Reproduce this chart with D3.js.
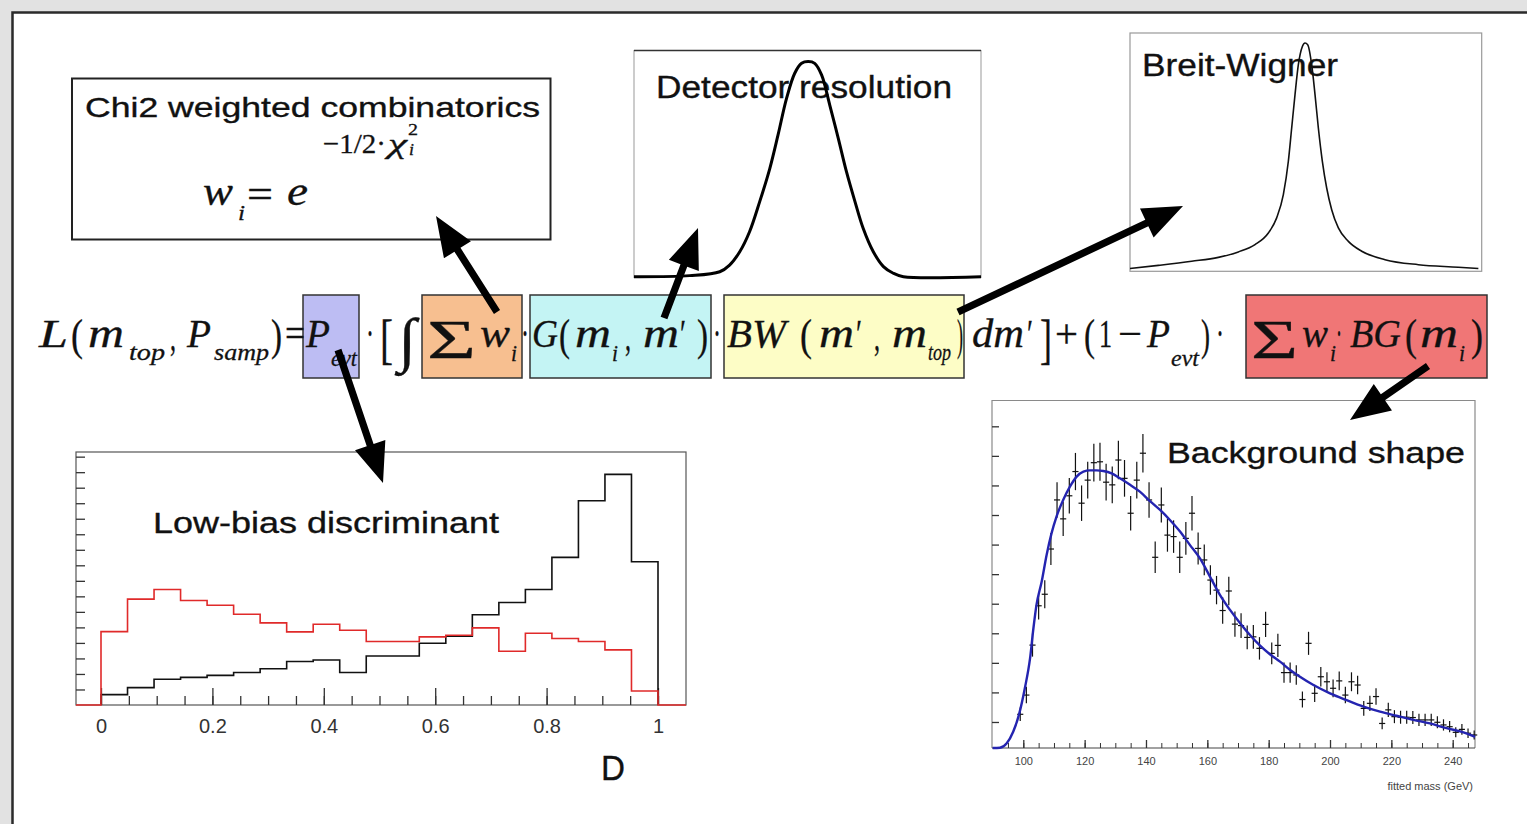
<!DOCTYPE html>
<html>
<head>
<meta charset="utf-8">
<script src="https://cdn.jsdelivr.net/npm/d3@7/dist/d3.min.js"></script>
<style>
  html, body { margin: 0; padding: 0; background: #fff; }
  svg { display: block; }
</style>
</head>
<body>
<svg id="slide" width="1527" height="824"></svg>
<script>
// ---------------- data ----------------
// Low-bias discriminant D: 21 equal bins on [0,1]
const discBinCount = 21;
const discSignal = [0.67, 1.12, 1.66, 1.78, 1.91, 2.09, 2.34, 2.80, 2.90, 2.09, 3.16,
                    3.16, 3.98, 4.43, 5.81, 6.60, 7.44, 9.51, 13.16, 14.86, 9.23];
const discBackground = [4.73, 6.82, 7.44, 6.73, 6.43, 5.85, 5.29, 4.71, 5.20, 4.82, 4.09,
                        4.09, 4.39, 4.49, 4.97, 3.46, 4.62, 4.28, 4.09, 3.55, 0.90];
const discTickValues = [0, 0.2, 0.4, 0.6, 0.8, 1];
const discTickLabels = ["0", "0.2", "0.4", "0.6", "0.8", "1"];

// Background shape: fitted mass, 2 GeV bins
const massBins = d3.range(99, 248, 2);
const bgCounts = [12.6, 19.1, 36.0, 49.3, 53.2, 68.5, 85.1, 78.7, 86.5, 94.7,
                  84.0, 91.8, 97.7, 98.0, 91.1, 90.2, 98.6, 92.4, 80.6, 91.8,
                  100.9, 85.1, 65.7, 83.4, 73.2, 72.7, 65.7, 72.1, 80.6, 68.7,
                  64.8, 58.0, 54.6, 47.7, 54.3, 43.1, 42.6, 38.6, 38.8, 34.9,
                  43.0, 33.2, 35.9, 26.7, 26.7, 25.9, 17.6, 36.6, 19.7, 25.3,
                  23.6, 21.4, 23.9, 19.1, 23.6, 22.5, 14.6, 16.3, 18.6, 9.5,
                  14.1, 11.8, 11.6, 11.6, 11.5, 10.7, 10.7, 10.7, 9.9, 9.0,
                  8.4, 6.5, 7.5, 6.2, 5.6];
const bgErrors = [2.3, 2.8, 3.9, 4.6, 4.7, 5.4, 6.0, 5.8, 6.0, 6.3,
                  6.0, 6.2, 6.4, 6.4, 6.2, 6.2, 6.5, 6.2, 5.8, 6.2,
                  6.5, 6.0, 5.3, 5.9, 5.6, 5.5, 5.3, 5.5, 5.8, 5.4,
                  5.2, 5.0, 4.8, 4.5, 4.8, 4.3, 4.2, 4.0, 4.0, 3.8,
                  4.3, 3.7, 3.9, 3.4, 3.4, 3.3, 2.7, 3.9, 2.9, 3.3,
                  3.2, 3.0, 3.2, 2.8, 3.2, 3.1, 2.5, 2.6, 2.8, 2.0,
                  2.4, 2.2, 2.2, 2.2, 2.2, 2.1, 2.1, 2.1, 2.0, 1.9,
                  1.9, 1.7, 1.8, 1.6, 1.5];
const fitMass = [90, 92.4, 94.6, 96.7, 98.7, 100.5, 102.2, 103.3, 104.3, 106.0, 107.6,
                 109.2, 110.8, 113.0, 115.2, 117.4, 119.6, 121.7, 123.9, 126.1, 128.8,
                 131.5, 134.8, 138.0, 141.3, 144.6, 147.8, 151.1, 154.3, 157.6, 160.9,
                 164.1, 167.4, 170.7, 173.9, 177.2, 180.4, 183.7, 187.0, 190.2, 194.6,
                 200.0, 205.4, 210.9, 216.3, 221.7, 227.2, 232.6, 238.0, 243.5, 247.3];
const fitValue = [1.2, 1.3, 2.8, 6.7, 12.9, 21.4, 31.5, 41.7, 49.6, 57.5, 66.5,
                  73.8, 79.4, 85.1, 89.6, 93.0, 94.7, 95.1, 95.1, 94.9, 94.1,
                  92.4, 90.2, 87.9, 84.7, 81.7, 78.3, 74.4, 69.9, 65.3, 59.1,
                  53.0, 47.9, 43.4, 39.4, 35.8, 32.9, 30.4, 27.6, 25.3, 22.5,
                  19.7, 17.4, 15.2, 13.5, 12.1, 10.7, 9.5, 7.9, 6.5, 5.0];
const massTickValues = [100, 120, 140, 160, 180, 200, 220, 240];

// Detector resolution (offset in units of sigma, relative height)
const resX = [-5.3, -3.6, -2.68, -2.38, -2.07, -1.77, -1.46, -1.15, -0.90, -0.64, -0.39, -0.18,
              0.02, 0.22, 0.43, 0.68, 0.94, 1.19, 1.45, 1.70, 2.01, 2.32, 2.62, 2.93, 5.3];
const resY = [0, 0.005, 0.023, 0.054, 0.116, 0.209, 0.349, 0.504, 0.659, 0.829, 0.946, 0.992,
              1.0, 0.992, 0.938, 0.798, 0.643, 0.488, 0.349, 0.225, 0.116, 0.047, 0.016, 0.0, 0];

// Breit-Wigner (offset in units of half width, relative height)
const bwX = [-10.5, -8.8, -6.8, -5.2, -4.0, -3.0, -2.2, -1.7, -1.3, -1.0, -0.8, -0.6, -0.4, -0.16,
             0, 0.16, 0.4, 0.6, 0.8, 1.04, 1.3, 1.6, 2.0, 2.6, 3.4, 4.8, 6.8, 9.2, 10.4];
const bwY = [0.012, 0.026, 0.044, 0.061, 0.085, 0.117, 0.168, 0.234, 0.336, 0.482, 0.628, 0.774,
             0.905, 0.985, 1.0, 0.993, 0.905, 0.774, 0.628, 0.482, 0.365, 0.270, 0.190, 0.131,
             0.088, 0.051, 0.029, 0.018, 0.012];

// ---------------- drawing ----------------
const svg = d3.select("#slide");
const SANS = "'Liberation Sans', Arial, Helvetica, sans-serif";
const SERIF = "'Liberation Serif', 'Times New Roman', serif";

// slide backdrop and border
svg.append("rect").attr("width", 1527).attr("height", 824).attr("fill", "#e2e2e2");
svg.append("rect").attr("x", 12).attr("y", 12).attr("width", 1515).attr("height", 812).attr("fill", "#fff");
svg.append("path").attr("d", "M12.5,824V12.5H1527")
  .attr("fill", "none").attr("stroke", "#2a2a2a").attr("stroke-width", 2.5);

function label(s, x, baseline, size, width, opts = {}) {
  const t = svg.append("text")
    .attr("x", x).attr("y", baseline)
    .attr("font-family", opts.family || SANS)
    .attr("font-size", size)
    .attr("fill", opts.fill || "#111")
    .attr("stroke", opts.fill || "#111")
    .attr("stroke-width", opts.weight == null ? 0.35 : opts.weight)
    .text(s);
  if (width) t.attr("textLength", width).attr("lengthAdjust", "spacingAndGlyphs");
  return t;
}

// a run of math glyphs set as one text element, each glyph its own tspan
function mathRun(glyphs) {
  const t = svg.append("text").attr("font-family", SERIF).attr("fill", "#111")
    .attr("stroke", "#111").attr("stroke-width", 0.3);
  glyphs.forEach(g => {
    t.append("tspan")
      .attr("x", g[1]).attr("y", g[3])
      .attr("font-size", g[4])
      .attr("font-style", g[5] ? "italic" : "normal")
      .attr("textLength", g[2]).attr("lengthAdjust", "spacingAndGlyphs")
      .text(g[0]);
  });
  return t;
}

function arrow(x1, y1, x2, y2) {
  const dx = x2 - x1, dy = y2 - y1, L = Math.hypot(dx, dy);
  const ux = dx / L, uy = dy / L, px = -uy, py = ux;
  const hl = 40, hw = 16, sw = 3.6;
  const bx = x2 - ux * hl, by = y2 - uy * hl;
  const pts = [
    [x1 + px * sw, y1 + py * sw], [bx + px * sw, by + py * sw], [bx + px * hw, by + py * hw],
    [x2, y2], [bx - px * hw, by - py * hw], [bx - px * sw, by - py * sw], [x1 - px * sw, y1 - py * sw]
  ];
  svg.append("polygon").attr("points", pts.map(p => p.join(",")).join(" ")).attr("fill", "#000");
}

// ---- Chi2 box ----
svg.append("rect").attr("x", 72).attr("y", 78.5).attr("width", 478.5).attr("height", 161)
  .attr("fill", "#fff").attr("stroke", "#222").attr("stroke-width", 2);
label("Chi2 weighted combinatorics", 85, 117, 28, 455);
mathRun([
  ["w", 203, 30, 205, 40, true],
  ["i", 238, 7, 220, 22, true],
  ["=", 247, 26, 208, 40, false],
  ["e", 287, 21, 205, 40, true],
  ["\u22121/2\u00B7", 323, 63, 153, 28, false],
  ["\u03C7", 388, 19, 153, 28, true],
  ["2", 408, 10, 135, 17, false],
  ["i", 409, 5, 155, 17, true]
]);

// ---- Detector resolution ----
const xG = d3.scaleLinear().domain([-5.3, 5.3]).range([634, 981]);
const yG = d3.scaleLinear().domain([0, 1.054]).range([276.7, 50]);
svg.append("line").attr("x1", 634).attr("x2", 634).attr("y1", 50).attr("y2", 278).attr("stroke", "#999");
svg.append("line").attr("x1", 981).attr("x2", 981).attr("y1", 50).attr("y2", 278).attr("stroke", "#999");
svg.append("line").attr("x1", 634).attr("x2", 981).attr("y1", 50.5).attr("y2", 50.5).attr("stroke", "#333").attr("stroke-width", 1.5);
label("Detector resolution", 656, 98, 31, 296);
svg.append("path")
  .attr("d", d3.line().x((d, i) => xG(resX[i])).y(d => yG(d)).curve(d3.curveCatmullRom.alpha(0.5))(resY))
  .attr("fill", "none").attr("stroke", "#000").attr("stroke-width", 3);

// ---- Breit-Wigner ----
const xW = d3.scaleLinear().domain([-10.5, 10.6]).range([1130, 1481.7]);
const yW = d3.scaleLinear().domain([0, 1.044]).range([271.3, 33]);
svg.append("rect").attr("x", 1130).attr("y", 33).attr("width", 351.7).attr("height", 238.3)
  .attr("fill", "#fff").attr("stroke", "#999").attr("stroke-width", 1.2);
label("Breit-Wigner", 1142, 76, 31, 196);
svg.append("path")
  .attr("d", d3.line().x((d, i) => xW(bwX[i])).y(d => yW(d)).curve(d3.curveMonotoneX)(bwY))
  .attr("fill", "none").attr("stroke", "#111").attr("stroke-width", 1.6);

// ---- Likelihood formula ----
const boxes = [
  { x0: 303, x1: 359, fill: "#bdbdf3" },
  { x0: 422, x1: 522, fill: "#f7bf90" },
  { x0: 530, x1: 711, fill: "#c4f4f4" },
  { x0: 724, x1: 964, fill: "#fdfdc6" },
  { x0: 1246, x1: 1487, fill: "#f07676" }
];
boxes.forEach(b => svg.append("rect")
  .attr("x", b.x0).attr("y", 295).attr("width", b.x1 - b.x0).attr("height", 83)
  .attr("fill", b.fill).attr("stroke", "#333").attr("stroke-width", 1.5));

mathRun([
  ["L", 39, 29, 347, 40, true], ["(", 71, 12, 350, 44, false], ["m", 88, 36, 347, 40, true],
  ["top", 129, 36, 360, 24, true], [",", 170, 6, 350, 40, false], ["P", 187, 24, 347, 40, true],
  ["samp", 214, 55, 360, 24, true], [")", 271, 11, 350, 44, false], ["=", 285, 20, 347, 40, false],
  ["P", 306, 24, 347, 40, true], ["evt", 331, 26, 366, 24, true], ["\u00B7", 366, 8, 347, 40, false],
  ["[", 380, 13, 358, 54, false], ["\u222B", 398, 18, 360, 60, false], ["\u03A3", 427, 49, 358, 54, false],
  ["w", 480, 30, 347, 40, true], ["i", 511, 6, 361, 24, true], ["\u00B7", 521, 8, 347, 40, false],
  ["G", 532, 26, 347, 40, true], ["(", 559, 11, 350, 44, false], ["m", 575, 36, 347, 40, true],
  ["i", 612, 6, 361, 24, true], [",", 625, 6, 350, 40, false], ["m", 643, 36, 347, 40, true],
  ["\u2032", 680, 6, 347, 40, false], [")", 697, 11, 350, 44, false], ["\u00B7", 713, 8, 347, 40, false],
  ["BW", 727, 59, 347, 40, true], ["(", 800, 12, 350, 44, false], ["m", 819, 35, 347, 40, true],
  ["\u2032", 856, 6, 347, 40, false], [",", 874, 6, 350, 40, false], ["m", 892, 35, 347, 40, true],
  ["top", 928, 23, 360, 24, true], [")", 957, 6, 350, 44, false], ["dm", 972, 52, 347, 40, true],
  ["\u2032", 1027, 6, 347, 40, false], ["]", 1040, 12, 358, 54, false], ["+", 1055, 23, 347, 40, false],
  ["(", 1084, 11, 350, 44, false], ["1", 1099, 13, 347, 40, false], ["\u2212", 1118, 24, 347, 40, false],
  ["P", 1147, 23, 347, 40, true], ["evt", 1171, 28, 366, 24, true], [")", 1201, 9, 350, 44, false],
  ["\u00B7", 1216, 8, 347, 40, false], ["\u03A3", 1251, 47, 358, 54, false], ["w", 1302, 26, 347, 40, true],
  ["i", 1330, 6, 361, 24, true], ["\u00B7", 1336, 6, 347, 40, false], ["BG", 1350, 51, 347, 40, true],
  ["(", 1405, 12, 350, 44, false], ["m", 1420, 38, 347, 40, true], ["i", 1459, 6, 361, 24, true],
  [")", 1471, 12, 350, 44, false]
]);

// ---- Low-bias discriminant histogram ----
const xD = d3.scaleLinear().domain([0, 1]).range([101, 658]);
const yD = d3.scaleLinear().domain([0, 16.3]).range([705, 452]);
const dLeft = 76, dRight = 686;
svg.append("rect").attr("x", dLeft).attr("y", 452).attr("width", dRight - dLeft).attr("height", 253)
  .attr("fill", "#fff").attr("stroke", "#555").attr("stroke-width", 1.2);

svg.append("g").attr("transform", `translate(${dLeft},0)`)
  .call(d3.axisLeft(yD).tickValues(d3.range(1, 17)).tickSize(-9).tickFormat(""))
  .call(g => g.select(".domain").remove())
  .call(g => g.selectAll("line").attr("stroke", "#333").attr("stroke-width", 1.3));
svg.append("g").attr("transform", "translate(0,705)")
  .call(d3.axisBottom(xD).tickValues(d3.range(0, 1.001, 0.05)).tickSize(-9).tickFormat(""))
  .call(g => g.select(".domain").remove())
  .call(g => g.selectAll("line").attr("stroke", "#333").attr("stroke-width", 1.3));
svg.append("g").attr("transform", "translate(0,705)")
  .call(d3.axisBottom(xD).tickValues(discTickValues).tickSize(-17)
    .tickFormat((d, i) => discTickLabels[i]).tickPadding(14))
  .call(g => g.select(".domain").remove())
  .call(g => g.selectAll("line").attr("stroke", "#333").attr("stroke-width", 1.3))
  .call(g => g.selectAll("text").attr("font-family", SANS).attr("font-size", 20).attr("fill", "#333"));

label("Low-bias discriminant", 153, 533, 30, 346);

function stepPoints(vals, lo, hi) {
  const w = 1 / discBinCount;
  const pts = [[lo, 0], [0, 0]];
  vals.forEach((v, i) => pts.push([i * w, v]));
  pts.push([1, 0], [hi, 0]);
  return pts;
}
const histLine = d3.line().x(d => xD(d[0])).y(d => yD(d[1])).curve(d3.curveStepAfter);
svg.append("path").attr("d", histLine(stepPoints(discSignal, 0, 1)))
  .attr("fill", "none").attr("stroke", "#111").attr("stroke-width", 1.6);
svg.append("path").attr("d", histLine(stepPoints(discBackground, xD.invert(dLeft), xD.invert(dRight))))
  .attr("fill", "none").attr("stroke", "#e02a2a").attr("stroke-width", 1.6);

label("D", 601, 780, 35, 24);

// ---- Background shape ----
const xB = d3.scaleLinear().domain([100, 240]).range([1023.3, 1452.7]);
const yB = d3.scaleLinear().domain([1.2, 118.9]).range([748, 400]);
const bLeft = 992, bRight = 1475;
svg.append("path").attr("d", `M${bLeft},748V400.5H${bRight}V748`)
  .attr("fill", "none").attr("stroke", "#8a8a8a").attr("stroke-width", 1.2);
svg.append("line").attr("x1", bLeft).attr("x2", bRight).attr("y1", 748).attr("y2", 748)
  .attr("stroke", "#444").attr("stroke-width", 1.2);

svg.append("g").attr("transform", `translate(${bLeft},0)`)
  .call(d3.axisLeft(yB).tickValues(d3.range(10, 111, 10)).tickSize(-7).tickFormat(""))
  .call(g => g.select(".domain").remove())
  .call(g => g.selectAll("line").attr("stroke", "#333").attr("stroke-width", 1.3));
svg.append("g").attr("transform", "translate(0,748)")
  .call(d3.axisBottom(xB).tickValues(d3.range(95, 246, 5)).tickSize(-5).tickFormat(""))
  .call(g => g.select(".domain").remove())
  .call(g => g.selectAll("line").attr("stroke", "#333"));
svg.append("g").attr("transform", "translate(0,748)")
  .call(d3.axisBottom(xB).tickValues(massTickValues).tickSize(-8).tickPadding(9))
  .call(g => g.select(".domain").remove())
  .call(g => g.selectAll("line").attr("stroke", "#333").attr("stroke-width", 1.3))
  .call(g => g.selectAll("text").attr("font-family", SANS).attr("font-size", 11).attr("fill", "#444"));
label("fitted mass  (GeV)", 1473, 790, 11, 0, { fill: "#444", weight: 0 }).attr("text-anchor", "end");

label("Background shape", 1167, 463, 30, 298);

const pts = svg.append("g").attr("stroke", "#111").attr("stroke-width", 1.2);
massBins.forEach((m, i) => {
  const v = bgCounts[i], e = bgErrors[i];
  pts.append("line").attr("x1", xB(m)).attr("x2", xB(m)).attr("y1", yB(v - e)).attr("y2", yB(v + e));
  pts.append("line").attr("x1", xB(m - 1)).attr("x2", xB(m + 1)).attr("y1", yB(v)).attr("y2", yB(v));
});
svg.append("path")
  .attr("d", d3.line().x((d, i) => xB(fitMass[i])).y(d => yB(d)).curve(d3.curveMonotoneX)(fitValue))
  .attr("fill", "none").attr("stroke", "#2424b0").attr("stroke-width", 2.4);

// ---- arrows linking formula terms to their ingredients ----
arrow(497, 312, 436, 216);
arrow(664, 318, 698, 228);
arrow(958, 312, 1183, 206);
arrow(338, 350, 383, 483);
arrow(1428, 366, 1350, 420);
</script>
</body>
</html>
